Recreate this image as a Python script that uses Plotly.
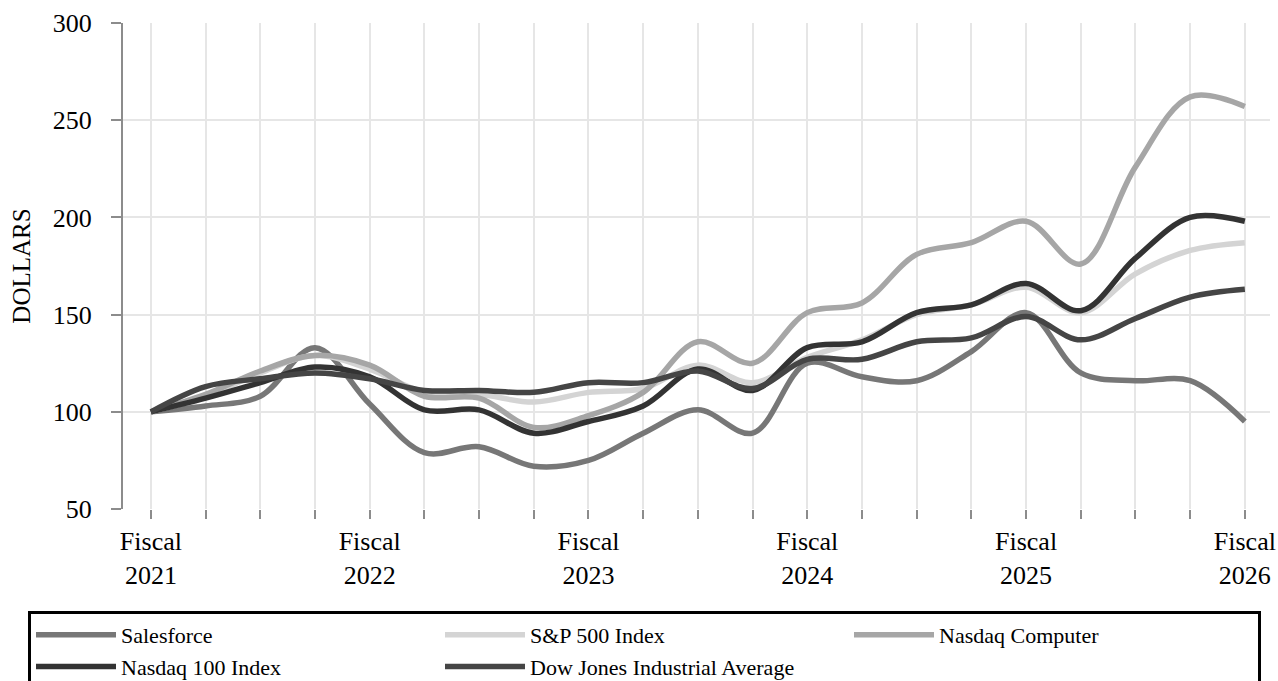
import plotly.graph_objects as go

quarters = list(range(21))
tick_text = ["Fiscal<br>2021", "", "", "", "Fiscal<br>2022", "", "", "", "Fiscal<br>2023", "", "", "",
             "Fiscal<br>2024", "", "", "", "Fiscal<br>2025", "", "", "", "Fiscal<br>2026"]

salesforce = [100, 103, 108, 133, 104, 79, 82, 72, 75, 89, 101, 89, 125, 118, 116, 131, 151, 120, 116, 116, 95]
sp500 = [100, 108, 120, 129, 122, 110, 109, 105, 110, 112, 124, 115, 128, 137, 150, 155, 164, 151, 171, 183, 187]
nasdaq_computer = [100, 109, 121, 129, 124, 108, 107, 92, 98, 110, 136, 125, 151, 156, 181, 187, 198, 176, 226, 262, 257]
nasdaq_100 = [100, 107, 115, 123, 118, 101, 101, 89, 95, 103, 122, 111, 133, 136, 151, 155, 166, 152, 179, 200, 198]
dow_jones = [100, 113, 117, 120, 117, 111, 111, 110, 115, 115, 121, 112, 127, 127, 136, 138, 149, 137, 148, 159, 163]

series = [
    ("Salesforce", salesforce, "#777777"),
    ("S&P 500 Index", sp500, "#d4d4d4"),
    ("Nasdaq Computer", nasdaq_computer, "#a6a6a6"),
    ("Nasdaq 100 Index", nasdaq_100, "#333333"),
    ("Dow Jones Industrial Average", dow_jones, "#454545"),
]

fig = go.Figure()
for name, vals, color in series:
    fig.add_trace(go.Scatter(
        x=quarters, y=vals, name=name, mode="lines",
        line=dict(color=color, width=5.5, shape="spline", smoothing=1.0),
    ))

font_family = "Liberation Serif"
fig.update_layout(
    width=1278, height=681,
    margin=dict(l=123, r=8, t=23, b=172, autoexpand=False),
    paper_bgcolor="white", plot_bgcolor="white",
    font=dict(family=font_family, color="black", size=22),
    showlegend=True,
    legend=dict(
        orientation="h", xref="paper", yref="paper",
        x=(28 - 123) / 1147, y=(509 - 611) / 486, xanchor="left", yanchor="top",
        bgcolor="white", bordercolor="black", borderwidth=3,
        font=dict(family=font_family, size=22, color="black"),
        entrywidth=314, entrywidthmode="pixels", itemwidth=80,
        traceorder="normal",
    ),
    xaxis=dict(
        range=[-0.51, 20.46], tickmode="array", tickvals=quarters, ticktext=tick_text,
        showgrid=True, gridcolor="#e6e6e6", gridwidth=2,
        ticks="outside", ticklen=9, tickwidth=2, tickcolor="#8c8c8c",
        showline=False, zeroline=False, automargin=False,
        tickfont=dict(family=font_family, size=26, color="black"),
    ),
    yaxis=dict(
        range=[50, 300], tickmode="linear", tick0=50, dtick=50,
        showgrid=True, gridcolor="#e6e6e6", gridwidth=2,
        ticks="outside", ticklen=10, tickwidth=2, tickcolor="#8c8c8c",
        showline=True, linecolor="#8c8c8c", linewidth=2, zeroline=False,
        automargin=False, ticklabelstandoff=14,
        tickfont=dict(family=font_family, size=26, color="black"),
        title=dict(text="DOLLARS", font=dict(family=font_family, size=25, color="black"), standoff=15),
    ),
)

fig.write_html("out.html", config={"displayModeBar": False},
               post_script="document.body.style.margin='0';")
